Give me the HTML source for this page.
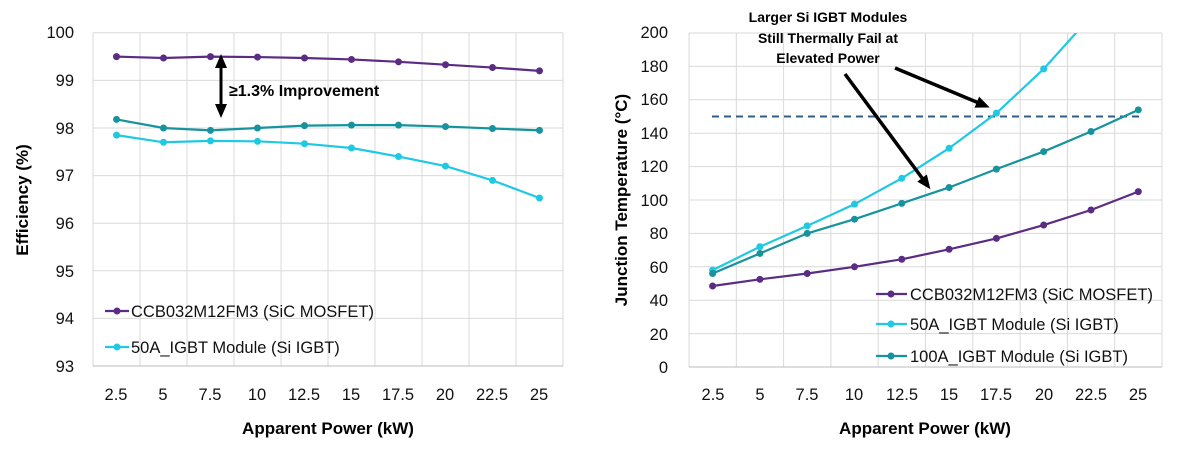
<!DOCTYPE html>
<html><head><meta charset="utf-8"><style>
html,body{margin:0;padding:0;background:#fff;}
svg{display:block;font-family:"Liberation Sans",sans-serif;}
.t{font-size:16.5px;fill:#111;}
.b{font-weight:bold;fill:#000;}
</style></head><body>
<svg id="s" width="1178" height="453" viewBox="0 0 1178 453" xmlns="http://www.w3.org/2000/svg">
<defs><marker id="ah" markerUnits="userSpaceOnUse" markerWidth="14" markerHeight="12" refX="10" refY="6" orient="auto"><path d="M0,0 L14,6 L0,12 z" fill="#000"/></marker>
<marker id="ah2" markerUnits="userSpaceOnUse" markerWidth="14" markerHeight="12" refX="4" refY="6" orient="auto-start-reverse"><path d="M0,0 L14,6 L0,12 z" fill="#000"/></marker></defs>
<g id="g"></g>
<g class="t" text-anchor="end">
<text x="74" y="38">100</text><text x="74" y="86">99</text><text x="74" y="134">98</text><text x="74" y="181">97</text>
<text x="74" y="229">96</text><text x="74" y="277">95</text><text x="74" y="324">94</text><text x="74" y="372">93</text>
</g>
<g class="t" text-anchor="middle">
<text x="116" y="400">2.5</text><text x="163" y="400">5</text><text x="210" y="400">7.5</text><text x="257" y="400">10</text><text x="304" y="400">12.5</text>
<text x="351" y="400">15</text><text x="398" y="400">17.5</text><text x="445" y="400">20</text><text x="492" y="400">22.5</text><text x="539" y="400">25</text>
</g>
<text class="b" x="328" y="434" text-anchor="middle" font-size="17">Apparent Power (kW)</text>
<text class="b" transform="translate(28,200) rotate(-90)" text-anchor="middle" font-size="17">Efficiency (%)</text>
<text class="b" x="229" y="96" font-size="16">≥1.3% Improvement</text>
<line x1="221" y1="64" x2="221" y2="114" stroke="#000" stroke-width="3" marker-start="url(#ah2)" marker-end="url(#ah)"/>
<text class="t" x="131" y="317">CCB032M12FM3 (SiC MOSFET)</text>
<text class="t" x="131" y="353">50A_IGBT Module (Si IGBT)</text>
<g class="t" text-anchor="end">
<text x="668" y="38">200</text><text x="668" y="72">180</text><text x="668" y="105">160</text><text x="668" y="139">140</text>
<text x="668" y="172">120</text><text x="668" y="206">100</text><text x="668" y="239">80</text><text x="668" y="273">60</text>
<text x="668" y="306">40</text><text x="668" y="340">20</text><text x="668" y="373">0</text>
</g>
<g class="t" text-anchor="middle">
<text x="713" y="400">2.5</text><text x="760" y="400">5</text><text x="807" y="400">7.5</text><text x="854" y="400">10</text><text x="902" y="400">12.5</text>
<text x="949" y="400">15</text><text x="996" y="400">17.5</text><text x="1044" y="400">20</text><text x="1091" y="400">22.5</text><text x="1138" y="400">25</text>
</g>
<text class="b" x="925" y="434" text-anchor="middle" font-size="17">Apparent Power (kW)</text>
<text class="b" transform="translate(627,200) rotate(-90)" text-anchor="middle" font-size="17">Junction Temperature (°C)</text>
<g class="b" font-size="14" text-anchor="middle">
<text x="828" y="22">Larger Si IGBT Modules</text><text x="828" y="43">Still Thermally Fail at</text><text x="828" y="63">Elevated Power</text>
</g>
<line x1="895" y1="68" x2="986" y2="106" stroke="#000" stroke-width="3.5" marker-end="url(#ah)"/>
<line x1="845" y1="74" x2="928" y2="186" stroke="#000" stroke-width="3.5" marker-end="url(#ah)"/>
<text class="t" x="910" y="300">CCB032M12FM3 (SiC MOSFET)</text>
<text class="t" x="910" y="330">50A_IGBT Module (Si IGBT)</text>
<text class="t" x="910" y="362">100A_IGBT Module (Si IGBT)</text>
</svg>
<script>
const g=document.getElementById('g'),NS='http://www.w3.org/2000/svg';
function el(n,a){const e=document.createElementNS(NS,n);for(const k in a)e.setAttribute(k,a[k]);g.appendChild(e);return e;}
const P='#5b2c83',C='#1fc8e3',T='#17939e',G='#d9d9d9';
for(let i=0;i<=10;i++)el('line',{x1:93+47*i,y1:33,x2:93+47*i,y2:366,stroke:G});
for(let v=93;v<=100;v++){let y=366-(v-93)*47.6;el('line',{x1:93,y1:y,x2:563,y2:y,stroke:v==93?'#bbb':G});}
function L(v){return 366-(v-93)*47.6}
function draw(d,col,fx,fy,clip){let pts=d.map((v,i)=>[fx(i),fy(v)]);
 el('polyline',{points:pts.map(p=>p.join(',')).join(' '),fill:'none',stroke:col,'stroke-width':2.2,'clip-path':clip||''});
 pts.forEach(p=>{if(p[1]>30)el('circle',{cx:p[0],cy:p[1],r:3.5,fill:col});});}
const lx=i=>116.5+47*i;
draw([99.5,99.47,99.5,99.49,99.47,99.44,99.39,99.33,99.27,99.2],P,lx,L);
draw([98.18,98.0,97.95,98.0,98.05,98.06,98.06,98.03,97.99,97.95],T,lx,L);
draw([97.85,97.7,97.73,97.72,97.67,97.58,97.4,97.2,96.9,96.53],C,lx,L);
el('line',{x1:105,y1:311,x2:129,y2:311,stroke:P,'stroke-width':2.2});el('circle',{cx:117,cy:311,r:3.5,fill:P});
el('line',{x1:105,y1:347,x2:129,y2:347,stroke:C,'stroke-width':2.2});el('circle',{cx:117,cy:347,r:3.5,fill:C});
for(let i=0;i<=10;i++)el('line',{x1:689+47.3*i,y1:33,x2:689+47.3*i,y2:367,stroke:G});
for(let v=0;v<=200;v+=20){let y=367-v*1.67;el('line',{x1:689,y1:y,x2:1162,y2:y,stroke:v==0?'#bbb':G});}
const cp=el('clipPath',{id:'cp'});const r=document.createElementNS(NS,'rect');r.setAttribute('x',689);r.setAttribute('y',33);r.setAttribute('width',473);r.setAttribute('height',334);cp.appendChild(r);
const rx=i=>712.6+47.3*i, ry=v=>367-v*1.67;
el('line',{x1:712,y1:ry(150),x2:1139,y2:ry(150),stroke:'#2e5f8a','stroke-width':2,'stroke-dasharray':'7,5'});
draw([48.5,52.5,56,60,64.5,70.5,77,85,94,105],P,rx,ry);
draw([58,72,84.5,97.5,113,131,152,178.5,210,245],C,rx,ry,'url(#cp)');
draw([56,68,80,88.5,98,107.5,118.5,129,141,154],T,rx,ry);
[[P,294],[C,324],[T,356]].forEach(([c,y])=>{el('line',{x1:876,y1:y,x2:907,y2:y,stroke:c,'stroke-width':2.2});el('circle',{cx:891,cy:y,r:3.5,fill:c});});
</script>
</body></html>
